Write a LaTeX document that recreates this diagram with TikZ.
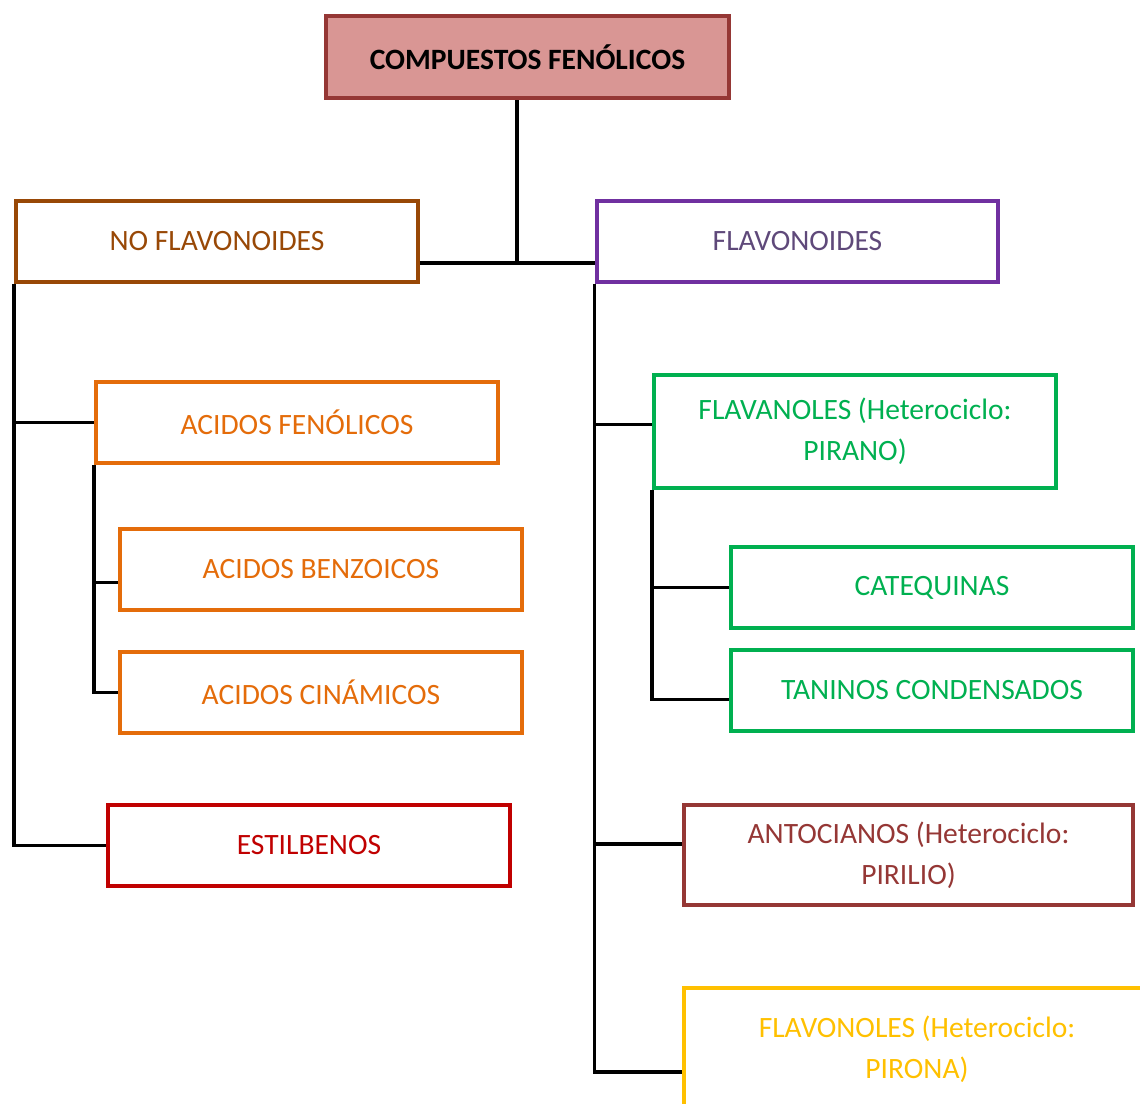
\documentclass[tikz,border=0pt]{standalone}
\usepackage{fontspec}
\setmainfont{Carlito}
\usetikzlibrary{calc}
\definecolor{rojoosc}{HTML}{953735}
\definecolor{rosa}{HTML}{D99694}
\definecolor{marron}{HTML}{984806}
\definecolor{morado}{HTML}{7030A0}
\definecolor{moradotx}{HTML}{5F497A}
\definecolor{naranja}{HTML}{E46C0A}
\definecolor{rojo}{HTML}{C00000}
\definecolor{verde}{HTML}{00B050}
\definecolor{amarillo}{HTML}{FFC000}
\tikzset{
  caja/.style={draw, line width=2.3pt, minimum width=8.04cm, minimum height=1.62cm,
    align=center, inner sep=0pt, font=\fontsize{16.8}{23.5}\selectfont},
  rama/.style={line width=2.1pt, black}
}
\begin{document}
\begin{tikzpicture}[x=0.02cm, y=-0.02cm]
\useasboundingbox (0,0) rectangle (1140,1104);
\clip (0,0) rectangle (1140,1104);
% cajas
\node (comp) at (527.5,57) [caja, draw=rojoosc, fill=rosa, minimum width=8.06cm, minimum height=1.64cm, font=\fontsize{16.8}{20}\selectfont\bfseries] {COMPUESTOS FENÓLICOS};
\node (nof) at (217,241.5) [caja, draw=marron, text=marron] {NO FLAVONOIDES};
\node (fla) at (797.5,241.5) [caja, draw=morado, text=moradotx] {FLAVONOIDES};
\node (acf) at (297,422.5) [caja, draw=naranja, text=naranja] {ACIDOS FENÓLICOS};
\node (acb) at (321,569.5) [caja, draw=naranja, text=naranja] {ACIDOS BENZOICOS};
\node (acc) at (321,692.5) [caja, draw=naranja, text=naranja] {ACIDOS CINÁMICOS};
\node (est) at (309,845.5) [caja, draw=rojo, text=rojo] {ESTILBENOS};
\node (flv) at (855,431.5) [caja, draw=verde, text=verde, minimum height=2.26cm] {FLAVANOLES (Heterociclo:\\PIRANO)};
\node (cat) at (932,587.5) [caja, draw=verde, text=verde] {CATEQUINAS};
\node (tan) at (932,690.5) [caja, draw=verde, text=verde] {TANINOS CONDENSADOS};
\node (ant) at (908.5,855) [caja, draw=rojoosc, text=rojoosc, minimum width=8.98cm, minimum height=2cm] {ANTOCIANOS (Heterociclo:\\PIRILIO)};
\node (fvo) at (917,1049) [caja, draw=amarillo, text=amarillo, minimum width=9.32cm, minimum height=2.44cm] {FLAVONOLES (Heterociclo:\\PIRONA)};
% lineas
\coordinate (j) at (517,263);
\draw[rama] (comp.south -| j) -- (j);
\draw[rama] (nof.east |- j) -- (fla.west |- j);
\draw[rama] (nof.south west) -- (nof.south west |- est.west) -- (est.west);
\draw[rama] (nof.south west |- acf.west) -- (acf.west);
\draw[rama] (acf.south west) -- (acf.south west |- acc.west) -- (acc.west);
\draw[rama] (acf.south west |- {$(acb.west)+(0,13)$}) -- ($(acb.west)+(0,13)$);
\draw[rama] (fla.south west) -- (fla.south west |- {$(fvo.west)+(0,23)$}) -- ($(fvo.west)+(0,23)$);
\draw[rama] (fla.south west |- {$(flv.west)+(0,-7)$}) -- ($(flv.west)+(0,-7)$);
\draw[rama] (fla.south west |- {$(ant.west)+(0,-11)$}) -- ($(ant.west)+(0,-11)$);
\draw[rama] (flv.south west) -- (flv.south west |- {$(tan.west)+(0,9)$}) -- ($(tan.west)+(0,9)$);
\draw[rama] (flv.south west |- cat.west) -- (cat.west);
\end{tikzpicture}
\end{document}
